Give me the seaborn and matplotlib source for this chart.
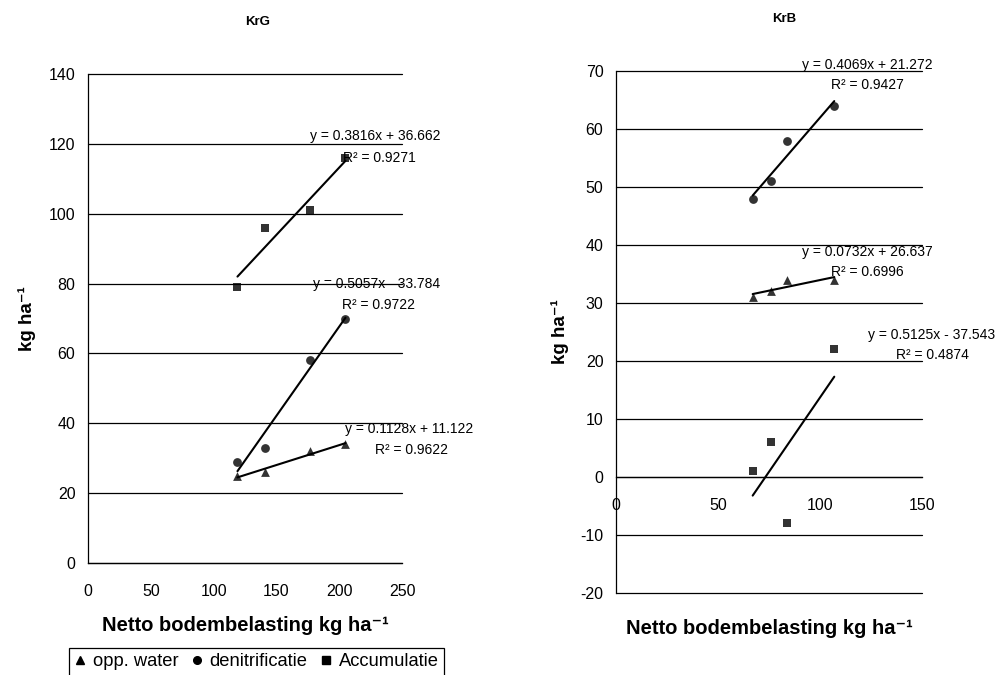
import matplotlib
matplotlib.use("Agg")
import matplotlib.pyplot as plt
from matplotlib.lines import Line2D
import seaborn as sns
import pandas as pd

# ---- data ----
x_krg = [119, 141, 177, 205]
krg_opp = [25, 26, 32, 34]
krg_denit = [29, 33, 58, 70]
krg_acc = [79, 96, 101, 116]

x_krb = [67, 76, 84, 107]
krb_opp = [31, 32, 34, 34]
krb_denit = [48, 51, 58, 64]
krb_acc = [1, 6, -8, 22]

series_names = ["opp. water", "denitrificatie", "Accumulatie"]
series_markers = ["^", "o", "s"]

krg_eqs = ["y = 0.1128x + 11.122", "y = 0.5057x - 33.784", "y = 0.3816x + 36.662"]
krg_r2 = ["R² = 0.9622", "R² = 0.9722", "R² = 0.9271"]
krb_eqs = ["y = 0.0732x + 26.637", "y = 0.4069x + 21.272", "y = 0.5125x - 37.543"]
krb_r2 = ["R² = 0.6996", "R² = 0.9427", "R² = 0.4874"]

sns.set_style("white")
plt.rcParams["font.family"] = ["Liberation Sans", "DejaVu Sans"]
plt.rcParams["axes.unicode_minus"] = False
plt.rcParams["text.color"] = "black"
plt.rcParams["axes.labelcolor"] = "black"

fig = plt.figure(figsize=(10, 6.75), dpi=100)
axL = fig.add_axes([0.088, 0.1659, 0.314, 0.7244])
axR = fig.add_axes([0.616, 0.1215, 0.306, 0.7733])


def draw(ax, x, ys):
    for y, m in zip(ys, series_markers):
        df = pd.DataFrame({"x": x, "y": y})
        sns.regplot(data=df, x="x", y="y", ax=ax, ci=None, truncate=True,
                    marker=m, color="black",
                    scatter_kws={"s": 40, "zorder": 4, "linewidths": 0},
                    line_kws={"lw": 1.5, "zorder": 3})
    ax.set_xlabel("")
    ax.set_ylabel("")


draw(axL, x_krg, [krg_opp, krg_denit, krg_acc])
draw(axR, x_krb, [krb_opp, krb_denit, krb_acc])

# ---- left axes ----
axL.set_xlim(0, 250)
axL.set_ylim(0, 140)
axL.set_xticks(range(0, 251, 50))
axL.set_yticks(range(0, 141, 20))
# ---- right axes ----
axR.set_xlim(0, 150)
axR.set_ylim(-20, 70)
axR.set_xticks(range(0, 151, 50))
axR.set_yticks(range(-20, 71, 10))
axR.spines["bottom"].set_position(("data", 0))

YLAB = "kg ha\u207b\u00b9"
XLAB = "Netto bodembelasting kg ha\u207b\u00b9"

for ax in (axL, axR):
    ax.yaxis.grid(True, color="black", lw=0.9)
    ax.xaxis.grid(False)
    ax.set_axisbelow(True)
    for s in ("top", "right"):
        ax.spines[s].set_visible(False)
    for s in ("left", "bottom"):
        ax.spines[s].set_color("black")
        ax.spines[s].set_linewidth(0.9)
    ax.tick_params(axis="both", direction="out", length=5, width=0.9,
                   color="black", labelsize=11.5, labelcolor="black", pad=4)
    ax.tick_params(axis="x", pad=10)
    ax.set_ylabel(YLAB, fontsize=13.5, fontweight="bold")
    ax.set_xlabel(XLAB, fontsize=14.5, fontweight="bold")

axL.xaxis.set_label_coords(0.5, -0.108)
axR.xaxis.set_label_coords(0.5, -0.05)
axL.yaxis.set_label_coords(-0.165, 0.5)
axR.yaxis.set_label_coords(-0.155, 0.5)

# ---- trendline equations ----
eq_pos_L = [(204.6, 38.3), (179, 80), (176.8, 122.3)]
r2_pos_L = [(228.5, 32.3), (202, 74), (203, 116)]
eq_pos_R = [(91.2, 38.8), (91.2, 71), (123.5, 24.5)]
r2_pos_R = [(105.4, 35.3), (105.4, 67.6), (137.3, 21)]
for ax, eqs, r2s, ep, rp in ((axL, krg_eqs, krg_r2, eq_pos_L, r2_pos_L),
                             (axR, krb_eqs, krb_r2, eq_pos_R, r2_pos_R)):
    for e, r, (ex, ey), (rx, ry) in zip(eqs, r2s, ep, rp):
        ax.text(ex, ey, e, fontsize=10, ha="left", va="center", zorder=2)
        ax.text(rx, ry, r, fontsize=10, ha="left", va="center", zorder=2)

# ---- titles ----
fig.text(0.258, 0.968, "KrG", fontsize=9.5, fontweight="bold", ha="center", va="center")
fig.text(0.784, 0.972, "KrB", fontsize=9.5, fontweight="bold", ha="center", va="center")

# ---- legend ----
handles = [Line2D([], [], linestyle="none", marker=m, color="black", markersize=5.5)
           for m in series_markers]
leg = fig.legend(handles, series_names, loc="upper left",
                 bbox_to_anchor=(0.069, 1 - 648 / 675), ncol=3,
                 fontsize=13.2, frameon=True, fancybox=False, framealpha=1,
                 edgecolor="black", handlelength=0.6, handletextpad=0.4,
                 columnspacing=0.7, borderpad=0.3, borderaxespad=0)
leg.get_frame().set_linewidth(0.9)

fig.canvas.draw()
for ax in (axL, axR):
    for gl in ax.get_ygridlines():
        gl.set_clip_on(False)

fig.savefig("out.png", dpi=100)
